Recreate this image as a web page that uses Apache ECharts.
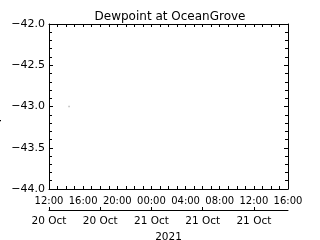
<!DOCTYPE html>
<html><head><meta charset="utf-8">
<script src="https://cdn.jsdelivr.net/npm/echarts@6/dist/echarts.min.js"></script>
<style>html,body{margin:0;padding:0;background:#fff}#c{width:320px;height:240px}</style>
</head><body><div id="c"></div>
<script>
const titleText = 'Dewpoint at OceanGrove';
const yName = 'Dewpoint (°C)';
const hourTickLabels = ['12:00','16:00','20:00','00:00','04:00','08:00','12:00','16:00'];
const dateTickLabels = ['20 Oct','20 Oct','21 Oct','21 Oct','21 Oct'];
const yearLabel = '2021';
const startHour = 12;            // 12:00, 20 Oct 2021
const spanHours = 28;
const obsHours = [2.35];         // hours after 12:00 20 Oct
const dewpoint = [-43.0];
const yMin = -44.0, yMax = -42.0;

const FONT = 'DejaVu Sans';
const black = '#000';
const lineStyle = {color: black, width: 1};

const chart = echarts.init(document.getElementById('c'), null, {renderer: 'canvas'});
const baseX = {
  type: 'value', min: 0, max: spanHours, interval: 4,
  axisLine: {show: true, onZero: false, lineStyle},
  axisTick: {show: true, inside: true, length: 3, lineStyle},
  minorTick: {show: true, splitNumber: 4, length: 3, lineStyle},
  splitLine: {show: false}
};
const baseY = {
  type: 'value', min: yMin, max: yMax, interval: 0.5,
  axisLine: {show: true, onZero: false, lineStyle},
  axisTick: {show: true, inside: true, length: 4, lineStyle},
  minorTick: {show: true, splitNumber: 5, length: 3, lineStyle},
  splitLine: {show: false}
};
chart.setOption({
  animation: false,
  backgroundColor: '#fff',
  title: {text: titleText, left: 165, textAlign: 'center', top: 6,
    textStyle: {fontFamily: FONT, fontSize: 12, fontWeight: 'normal', color: black}},
  grid: {left: 49, right: 32, top: 24, bottom: 51, containLabel: false, outerBoundsMode: 'none'},
  xAxis: [
    Object.assign({}, baseX, {position: 'bottom',
      axisLabel: {show: true, margin: 7, fontFamily: FONT, fontSize: 10, color: black,
        hideOverlap: false, showMinLabel: true, showMaxLabel: true, interval: 0,
        formatter: v => hourTickLabels[Math.round(v / 4)] || ''}}),
    Object.assign({}, baseX, {position: 'top', axisLabel: {show: false}}),
    {type: 'value', min: 0, max: spanHours, position: 'bottom', offset: 21,
      axisLine: {show: true, onZero: false, lineStyle},
      axisTick: {show: true, inside: true, length: 3, lineStyle, customValues: [0, 6, 12, 18, 24]},
      axisLabel: {show: true, margin: 6, fontFamily: FONT, fontSize: 10.5, color: black,
        hideOverlap: false, customValues: [0, 6, 12, 18, 24],
        formatter: v => dateTickLabels[Math.round(v / 6)] || ''},
      splitLine: {show: false},
      name: yearLabel, nameLocation: 'middle', nameGap: 18,
      nameTextStyle: {fontFamily: FONT, fontSize: 10.5, color: black}}
  ],
  yAxis: [
    Object.assign({}, baseY, {position: 'left',
      axisLabel: {show: true, margin: 4, fontFamily: FONT, fontSize: 11, color: black,
        showMinLabel: true, showMaxLabel: true,
        formatter: v => (v < 0 ? '\u2212' : '') + Math.abs(v).toFixed(1)},
      name: yName, nameLocation: 'middle', nameGap: 46, nameRotate: 90,
      nameTextStyle: {fontFamily: FONT, fontSize: 12, color: black}}),
    Object.assign({}, baseY, {position: 'right', axisLabel: {show: false}})
  ],
  series: [{
    type: 'scatter', xAxisIndex: 0, yAxisIndex: 0,
    symbol: 'rect', symbolSize: 1.5,
    itemStyle: {color: '#aaa'},
    data: obsHours.map((h, i) => [h, dewpoint[i]])
  }]
});
</script></body></html>
